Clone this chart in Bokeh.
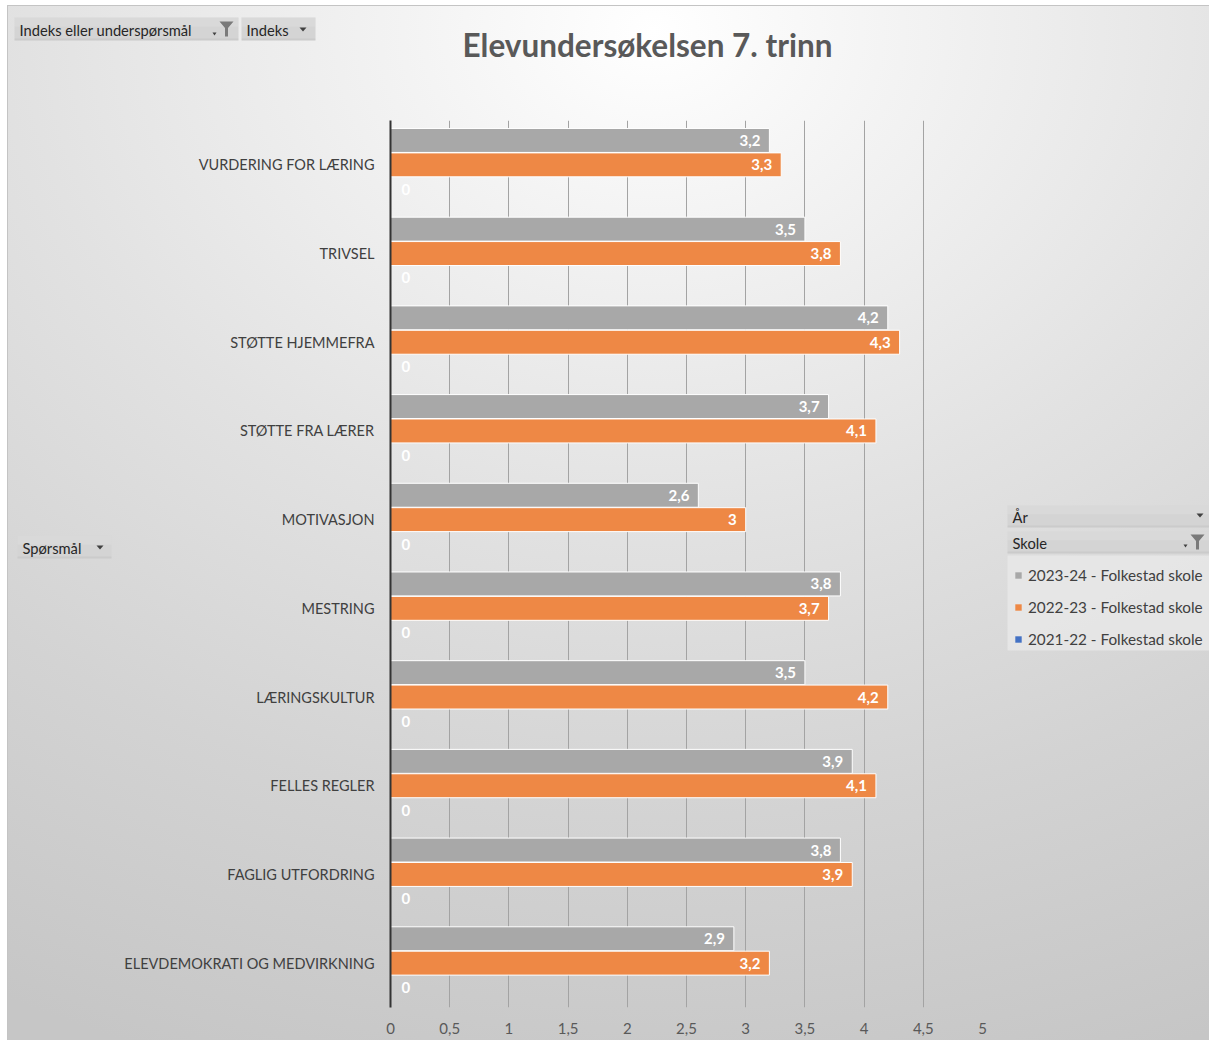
from bokeh.plotting import figure
from bokeh.layouts import column, row
from bokeh.models import (FactorRange, Range1d, ColumnDataSource, Legend, LegendItem,
                          FixedTicker, CustomJSTickFormatter)
from bokeh.transform import dodge
from bokeh.embed import file_html
from bokeh.resources import INLINE
from bokeh.core.properties import value

# ---------------- data ----------------
title_text = "Elevundersøkelsen 7. trinn"
categories = ["VURDERING FOR LÆRING", "TRIVSEL", "STØTTE HJEMMEFRA", "STØTTE FRA LÆRER",
              "MOTIVASJON", "MESTRING", "LÆRINGSKULTUR", "FELLES REGLER",
              "FAGLIG UTFORDRING", "ELEVDEMOKRATI OG MEDVIRKNING"]
series_names = ["2023-24 - Folkestad skole", "2022-23 - Folkestad skole", "2021-22 - Folkestad skole"]
values_2023_24 = [3.2, 3.5, 4.2, 3.7, 2.6, 3.8, 3.5, 3.9, 3.8, 2.9]
values_2022_23 = [3.3, 3.8, 4.3, 4.1, 3.0, 3.7, 4.2, 4.1, 3.9, 3.2]
values_2021_22 = [0, 0, 0, 0, 0, 0, 0, 0, 0, 0]
x_ticks = [0, 0.5, 1, 1.5, 2, 2.5, 3, 3.5, 4, 4.5, 5]
filter_buttons = ["Indeks eller underspørsmål", "Indeks", "Spørsmål", "År", "Skole"]

# ---------------- style ----------------
GRAY = "#a8a8a8"
ORANGE = "#ee8845"
BLUE = "#4472c4"
FONT = "Lato"
TOTAL_W, TOTAL_H = 1209, 1040
TOP_H = 120                 # header strip height
LEFT_W, RIGHT_W = 115, 214  # side strips
MAIN_W = TOTAL_W - LEFT_W - RIGHT_W
MID_H = TOTAL_H - TOP_H
# frame of the bar chart (page pixels)
FL, FR, FT, FB = 390, 982, 120, 1007
BTN_FILL = "#d4d4d4"


def fmt(v):
    return f"{v:g}".replace(".", ",")


def deco_fig(w, h, x0, x1, y0, y1):
    f = figure(width=w, height=h, x_range=Range1d(x0, x1), y_range=Range1d(y1, y0),
               min_border=0, min_border_left=0, min_border_right=0, min_border_top=0,
               min_border_bottom=0, x_axis_type=None, y_axis_type=None, title=None,
               output_backend="svg", toolbar_location=None)
    f.border_fill_color = None
    f.background_fill_color = None
    f.outline_line_color = None
    f.grid.visible = False
    return f


def button(f, x0, y0, x1, y1, label=None):
    f.quad(left=[x0], right=[x1], top=[y0], bottom=[y1], fill_color=BTN_FILL, line_color=None)
    f.quad(left=[x0], right=[x1], top=[y0], bottom=[y0 + (y1 - y0) * 0.4],
           fill_color="#ffffff", fill_alpha=0.12, line_color=None)
    f.quad(left=[x0], right=[x1], top=[y1 - 2], bottom=[y1], fill_color="#000000",
           fill_alpha=0.04, line_color=None)
    if label is not None:
        f.text(x=[x0 + 5], y=[(y0 + y1) / 2 + 0.5], text=[label], text_font=value(FONT),
               text_font_size="14.7px", text_color="#262626", text_baseline="middle",
               text_align="left")


def arrow(f, sx, sy, w=7, h=4):
    f.patch(x=[sx, sx + w, sx + w / 2], y=[sy, sy, sy + h], fill_color="#404040",
            line_color=None)


def funnel(f, sx, sy):
    pts = [(0, 0), (14, 0), (8.5, 6.5), (8.5, 15), (5.5, 15), (5.5, 6.5)]
    f.patch(x=[sx + a for a, b in pts], y=[sy + b for a, b in pts], fill_color="#7a7a7a",
            line_color=None)


# ---------------- header strip ----------------
top = deco_fig(TOTAL_W, TOP_H, 0, TOTAL_W, 0, TOP_H)
button(top, 14, 17, 238, 40, filter_buttons[0])
arrow(top, 212, 32, w=4, h=3)
funnel(top, 219, 21)
button(top, 241, 17, 315, 40, filter_buttons[1])
arrow(top, 299, 27)
top.text(x=[647], y=[44], text=[title_text], text_font=value(FONT), text_font_size="31.5px",
         text_font_style="bold", text_color="#595959", text_align="center",
         text_baseline="middle")

# ---------------- left strip (frame aligned with chart frame) ----------------
left = deco_fig(LEFT_W, MID_H, 0, LEFT_W, FT, FB)
button(left, 17, 535, 111, 558, filter_buttons[2])
arrow(left, 96, 545)

# ---------------- main chart ----------------
src = ColumnDataSource(dict(
    cat=categories,
    v1=values_2023_24, v2=values_2022_23, v3=values_2021_22,
    l1=[fmt(v) for v in values_2023_24],
    l2=[fmt(v) for v in values_2022_23],
    l3=[fmt(v) for v in values_2021_22],
))

p = figure(width=MAIN_W, height=MID_H, title=None,
           y_range=FactorRange(factors=categories[::-1]), x_range=(0, 5),
           output_backend="svg", toolbar_location=None,
           min_border_left=FL - LEFT_W, min_border_right=LEFT_W + MAIN_W - FR,
           min_border_top=FT - TOP_H, min_border_bottom=TOTAL_H - FB)
p.border_fill_color = None
p.background_fill_color = None
p.outline_line_color = None

p.xaxis.ticker = FixedTicker(ticks=x_ticks)
p.xaxis.formatter = CustomJSTickFormatter(code="return tick.toString().replace('.', ',');")
p.xaxis.axis_line_color = None
p.xaxis.major_tick_line_color = None
p.xaxis.minor_tick_line_color = None
p.xaxis.major_tick_out = 0
p.xaxis.major_tick_in = 0
p.xaxis.major_label_standoff = 15
p.xaxis.major_label_text_font = FONT
p.xaxis.major_label_text_font_size = "15px"
p.xaxis.major_label_text_color = "#595959"

p.yaxis.axis_line_color = "#333333"
p.yaxis.axis_line_width = 2
p.yaxis.major_tick_line_color = None
p.yaxis.major_tick_out = 0
p.yaxis.major_tick_in = 0
p.yaxis.major_label_standoff = 16
p.yaxis.major_label_text_font = FONT
p.yaxis.major_label_text_font_size = "14.5px"
p.yaxis.major_label_text_color = "#404040"

p.xgrid.ticker = FixedTicker(ticks=x_ticks)
p.xgrid.grid_line_color = "#a3a3a3"
p.ygrid.grid_line_color = None

OFF, BH = 0.275, 0.27
p.hbar(y=dodge("cat", OFF, range=p.y_range), left=0, right="v1", height=BH, source=src,
       fill_color=GRAY, line_color="white", line_width=1)
p.hbar(y=dodge("cat", 0, range=p.y_range), left=0, right="v2", height=BH, source=src,
       fill_color=ORANGE, line_color="white", line_width=1)
p.hbar(y=dodge("cat", -OFF, range=p.y_range), left=0, right="v3", height=BH, source=src,
       fill_color=BLUE, line_color="white", line_width=1)

lab = dict(source=src, text_baseline="middle", text_color="white", text_font=value(FONT),
           text_font_style="bold", text_font_size="15px")
p.text(x="v1", y=dodge("cat", OFF, range=p.y_range), text="l1", x_offset=-9, text_align="right", **lab)
p.text(x="v2", y=dodge("cat", 0, range=p.y_range), text="l2", x_offset=-9, text_align="right", **lab)
p.text(x="v3", y=dodge("cat", -OFF, range=p.y_range), text="l3", x_offset=11, text_align="left", **lab)

# ---------------- right strip (filters + legend) ----------------
X0R = LEFT_W + MAIN_W
right = deco_fig(RIGHT_W, MID_H, X0R, TOTAL_W, FT, FB)
button(right, 1007, 505, 1214, 527, filter_buttons[3])
arrow(right, 1196, 513)
button(right, 1007, 531, 1214, 553, filter_buttons[4])
arrow(right, 1183, 544, w=4, h=3)
funnel(right, 1190, 534)
right.quad(left=[1007], right=[1214], top=[555], bottom=[650], fill_color="#e7e7e7",
           fill_alpha=0.9, line_color=None)

swatches = [right.rect(x=[-1000], y=[-1000], width=1, height=1, fill_color=c, line_color=None)
            for c in (GRAY, ORANGE, BLUE)]
legend = Legend(items=[LegendItem(label=n, renderers=[r]) for n, r in zip(series_names, swatches)],
                location=(1014 - X0R, FB - 649), margin=0, padding=5, spacing=12,
                label_height=20, glyph_width=8, glyph_height=8, label_standoff=6,
                label_text_font=FONT, label_text_font_size="15.3px", label_text_color="#404040",
                background_fill_alpha=0, border_line_color=None)
right.add_layout(legend)

layout = column(top, row(left, p, right))
layout.styles = {
    "background": "radial-gradient(ellipse 115% 105% at 54% 3%, #ffffff 0%, #f3f3f3 18%, "
                  "#e2e2e2 45%, #d3d3d3 72%, #c6c6c6 100%)",
    "box-shadow": "inset 7px 5px 0 0 #ffffff, inset 8px 6px 0 0 #c4c4c4",
}

open("out.html", "w").write(file_html(layout, INLINE))
